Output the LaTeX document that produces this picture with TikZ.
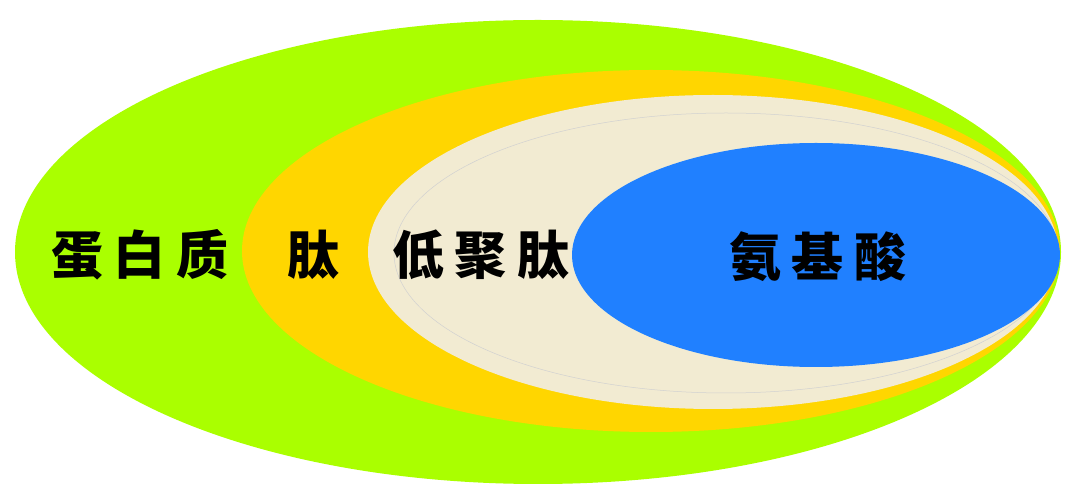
\documentclass[tikz,border=0pt]{standalone}
\usepackage{fontspec}
\newfontfamily\cjk[LetterSpace=20]{Noto Sans CJK SC}
\definecolor{cgreen}{RGB}{170,255,0}
\definecolor{cyellow}{RGB}{255,214,0}
\definecolor{ccream}{RGB}{242,235,210}
\definecolor{cblue}{RGB}{32,128,255}
\tikzset{
    EL/.style ={draw=none},
    RIM/.style ={draw=black!18, line width=0.5pt},
    LB/.style ={font=\cjk\bfseries\fontsize{52}{52}\selectfont, inner sep=0pt, text=black}}
\begin{document}
\begin{tikzpicture}[x=1pt,y=-1pt]
        \fill[white] (0,0) rectangle (1080,502);
        \useasboundingbox (0,0) rectangle (1080,502);
        % nested sets
        \fill[EL,cgreen] (538,252) ellipse [x radius=523pt, y radius=232pt];
        \fill[EL,cyellow] (651,251) ellipse [x radius=409pt, y radius=181pt];
        \fill[EL,ccream] (713,252) ellipse [x radius=345pt, y radius=157pt];
        \draw[RIM] (726,253) ellipse [x radius=332pt, y radius=140pt];
        \fill[EL,cblue] (816,255) ellipse [x radius=244pt, y radius=112pt];
        % labels
        \node[LB] (protein) at (140,255) {蛋白质};
        \node[LB] (peptide) at (313,255) {肽};
        \node[LB] (oligo) at (481,255) {低聚肽};
        \node[LB] (amino) at (818,257) {氨基酸};
    \end{tikzpicture}
\end{document}
